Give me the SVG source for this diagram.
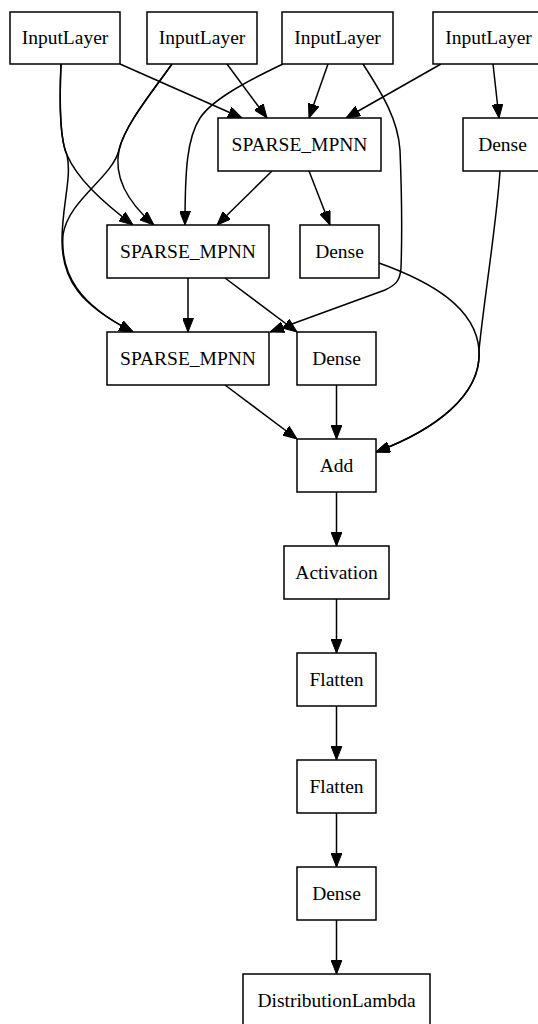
<svg xmlns="http://www.w3.org/2000/svg" width="538" height="1024" viewBox="0 0 538 1024">
  <style>
    .node rect { fill: #ffffff; stroke: #000000; stroke-width: 1.5; }
    .node text { font-family: "Liberation Serif", "Times New Roman", serif; font-size: 19.5px; fill: #000000; text-anchor: middle; }
    .edges path { fill: none; stroke: #000000; stroke-width: 1.5; marker-end: url(#arrow); }
  </style>
  <defs>
    <marker id="arrow" markerUnits="userSpaceOnUse" markerWidth="14" markerHeight="11" refX="14" refY="5.5" orient="auto">
      <path d="M0,0 L14,5.5 L0,11 z" fill="#000000" stroke="#000000" stroke-width="1"/>
    </marker>
  </defs>
  <rect width="538" height="1024" fill="#ffffff"/>

  <g class="edges" id="edges">
    <!-- input layers -->
    <path d="M120,64 L242,118"/>
    <path d="M61,64 C59,110 60,140 67,155 C77,178 100,200 133,225"/>
    <path d="M61,64 C59,110 60,140 67,155 C72,178 62,205 62,240 C62,280 80,305 133,332"/>
    <path d="M227,64 L267,118"/>
    <path d="M172,64 C150,95 125,125 119,150 C114,175 125,200 154,225"/>
    <path d="M172,64 C150,95 125,125 119,150 C112,178 68,200 63,235 C60,275 80,305 133,332"/>
    <path d="M328,64 L309,118"/>
    <path d="M283,64 C245,82 212,100 200,118 C187,138 185,170 185,225"/>
    <path d="M363,64 C383,95 398,120 400,150 C402,200 402,240 401,268 C400,282 395,285 385,290 L270,332"/>
    <path d="M441,64 L346,118"/>
    <path d="M493,64 L499,118"/>
    <!-- message passing -->
    <path d="M272,171 L217,225"/>
    <path d="M309,171 L330,225"/>
    <path d="M188,278 L188,332"/>
    <path d="M225,278 L297,332"/>
    <path d="M379,263 C432,282 476,308 479,350 C482,395 435,430 376,452"/>
    <path d="M500,171 C497,220 484,300 479,350 C482,395 435,430 376,452"/>
    <path d="M225,385 L297,439"/>
    <path d="M336.5,385 L336.5,439"/>
    <!-- head -->
    <path d="M336.5,492 L336.5,546"/>
    <path d="M336.5,599 L336.5,653"/>
    <path d="M336.5,706 L336.5,760"/>
    <path d="M336.5,813 L336.5,867"/>
    <path d="M336.5,920 L336.5,974"/>
  </g>

  <g class="node" id="input_1"><rect x="10" y="12" width="110" height="52"/><text x="65" y="43.5">InputLayer</text></g>
  <g class="node" id="input_2"><rect x="147" y="12" width="110" height="52"/><text x="202" y="43.5">InputLayer</text></g>
  <g class="node" id="input_3"><rect x="282" y="12" width="111" height="52"/><text x="337.5" y="43.5">InputLayer</text></g>
  <g class="node" id="input_4"><rect x="433" y="12" width="111" height="52"/><text x="488.5" y="43.5">InputLayer</text></g>

  <g class="node" id="sparse_mpnn_1"><rect x="218" y="118" width="163" height="53"/><text x="299.5" y="150.5">SPARSE_MPNN</text></g>
  <g class="node" id="dense_1"><rect x="463" y="118" width="79" height="53"/><text x="502.5" y="150.5">Dense</text></g>

  <g class="node" id="sparse_mpnn_2"><rect x="107" y="225" width="162" height="53"/><text x="188" y="257.5">SPARSE_MPNN</text></g>
  <g class="node" id="dense_2"><rect x="300" y="225" width="79" height="53"/><text x="339.5" y="257.5">Dense</text></g>

  <g class="node" id="sparse_mpnn_3"><rect x="107" y="332" width="162" height="53"/><text x="188" y="364.5">SPARSE_MPNN</text></g>
  <g class="node" id="dense_3"><rect x="297" y="332" width="79" height="53"/><text x="336.5" y="364.5">Dense</text></g>

  <g class="node" id="add"><rect x="297" y="439" width="79" height="53"/><text x="336.5" y="471.5">Add</text></g>
  <g class="node" id="activation"><rect x="284" y="546" width="105" height="53"/><text x="336.5" y="578.5">Activation</text></g>
  <g class="node" id="flatten_1"><rect x="297" y="653" width="79" height="53"/><text x="336.5" y="685.5">Flatten</text></g>
  <g class="node" id="flatten_2"><rect x="297" y="760" width="79" height="53"/><text x="336.5" y="792.5">Flatten</text></g>
  <g class="node" id="dense_4"><rect x="297" y="867" width="79" height="53"/><text x="336.5" y="899.5">Dense</text></g>
  <g class="node" id="distribution_lambda"><rect x="243" y="974" width="187" height="53"/><text x="336.5" y="1006.5">DistributionLambda</text></g>
</svg>
